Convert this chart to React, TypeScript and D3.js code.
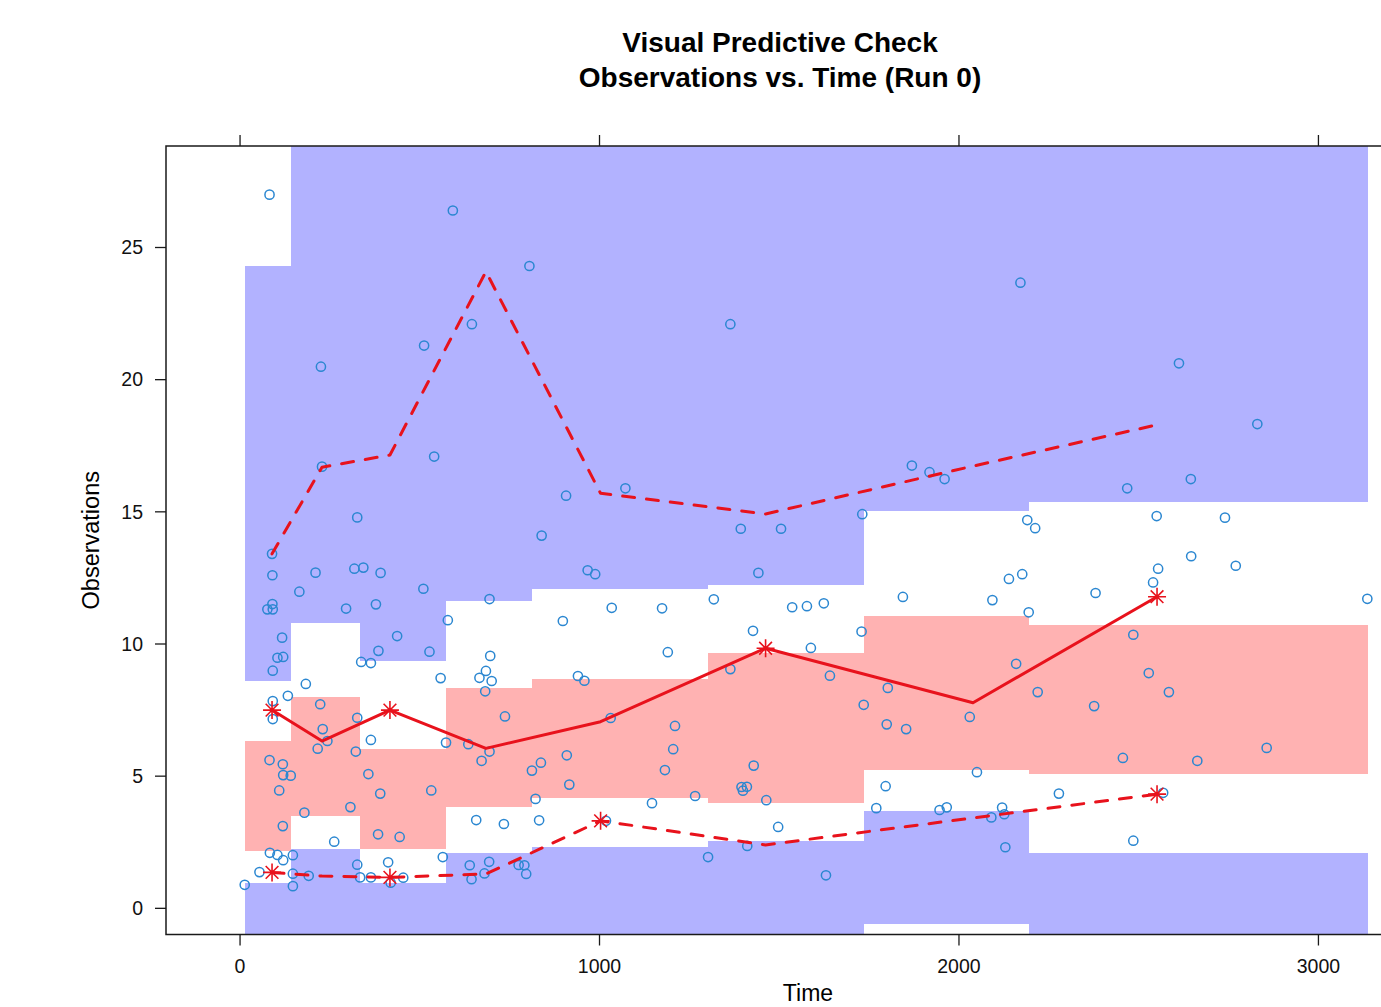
import React from "react";
import * as d3 from "d3";

// ---- Title and axis labels ----
const titleLines = ["Visual Predictive Check", "Observations vs. Time (Run 0)"];
const xLabel = "Time";
const yLabel = "Observations";
const xTicks = [0, 1000, 2000, 3000];
const yTicks = [0, 5, 10, 15, 20, 25];

// ---- Time bins (edges) and the time used for each bin's observed percentiles ----
const binEdges = [14, 141, 334, 573, 812, 1302, 1735, 2195, 3137];
const binTimes = [89, 228, 417, 684, 1003, 1462, 2039, 2551];

// ---- Simulated prediction intervals per bin ----
// confidence interval of the 5th percentile
const p05Lo = [-1.5, -1.5, -1.5, -1.5, -1.5, -1.5, -0.61, -1.5];
const p05Hi = [0.97, 2.23, 0.97, 2.08, 2.33, 2.55, 3.68, 2.09];
// confidence interval of the median
const p50Lo = [2.17, 3.49, 2.23, 3.84, 4.18, 3.97, 5.23, 5.09];
const p50Hi = [6.32, 7.98, 6.02, 8.32, 8.68, 9.65, 11.07, 10.73];
// confidence interval of the 95th percentile
const p95Lo = [8.61, 10.81, 9.36, 11.63, 12.07, 12.23, 15.03, 15.38];
const p95Hi = [24.3, 31.5, 31.5, 31.5, 31.5, 31.5, 31.5, 31.5];

// ---- Observed percentiles per bin ----
const obsP05 = [1.36, 1.22, 1.17, 1.3, 3.31, 2.4, 3.42, 4.32];
const obsP50 = [7.5, 6.33, 7.5, 6.05, 7.06, 9.84, 7.78, 11.79];
const obsP95 = [13.41, 16.69, 17.15, 24.09, 15.7, 14.92, 16.73, 18.29];

// ---- Observations ----
const obsTime = [
  82, 592, 805, 645, 512, 225, 540, 228, 907, 326, 839, 1072, 1364, 1869, 1918, 1960, 1731, 1393, 1505, 2171,
  2612, 2830, 2468, 2645, 2190, 2212, 2550, 2740, 89, 90, 210, 318, 343, 391, 165, 510, 967, 988,
  76, 91, 90, 295, 378, 694, 1034, 578, 898, 117, 437, 104, 120, 91, 337, 364, 385, 527, 696, 684,
  666, 700, 682, 558, 183, 133, 940, 958, 91, 223, 91, 326, 737, 1031, 230, 243, 216, 364, 322, 573,
  635, 694, 672, 82, 119, 120, 141, 109, 357, 390, 532, 812, 837, 909, 916, 822, 179, 307, 119, 384,
  444, 262, 657, 734, 832, 1018, 83, 104, 120, 147, 54, 147, 191, 13, 147, 326, 412, 334, 364, 419,
  454, 564, 639, 644, 680, 693, 775, 791, 796, 1442, 1174, 1318, 1536, 1577, 1624, 1844, 2093, 1427, 1729, 1190,
  1588, 1364, 1641, 1802, 1735, 1799, 1853, 2030, 1210, 1205, 1182, 1429, 1395, 1410, 1399, 1464, 1146, 1266, 2050, 1796,
  1770, 1946, 1966, 1497, 1411, 1302, 1630, 2090, 2646, 2770, 2554, 2540, 2139, 2176, 2380, 2194, 3136, 2485, 2159, 2528,
  2584, 2219, 2376, 2456, 2663, 2856, 2278, 2568, 2120, 2126, 2129, 2485,
];
const obsValue = [
  27.0, 26.4, 24.3, 22.1, 21.29, 20.49, 17.09, 16.71, 15.61, 14.79, 14.1, 15.89, 22.1, 16.75, 16.5, 16.24, 14.91, 14.36, 14.36, 23.67,
  20.62, 18.32, 15.89, 16.24, 14.69, 14.38, 14.84, 14.78, 13.41, 12.6, 12.7, 12.85, 12.89, 12.69, 11.98, 12.09, 12.79, 12.64,
  11.31, 11.31, 11.51, 11.34, 11.5, 11.7, 11.37, 10.9, 10.87, 10.24, 10.3, 9.48, 9.51, 8.99, 9.32, 9.28, 9.74, 9.71, 9.55, 8.98,
  8.72, 8.6, 8.21, 8.71, 8.49, 8.04, 8.79, 8.61, 7.84, 7.72, 7.16, 7.21, 7.26, 7.2, 6.78, 6.33, 6.04, 6.37, 5.93, 6.27,
  6.21, 5.93, 5.58, 5.61, 5.45, 5.04, 5.02, 4.46, 5.08, 4.34, 4.46, 5.21, 5.51, 5.79, 4.68, 4.14, 3.62, 3.83, 3.11, 2.8,
  2.7, 2.52, 3.34, 3.19, 3.33, 3.31, 2.1, 2.02, 1.82, 2.01, 1.37, 1.31, 1.23, 0.89, 0.84, 1.65, 1.74, 1.17, 1.17, 0.97,
  1.16, 1.94, 1.63, 1.1, 1.32, 1.76, 1.64, 1.63, 1.3, 12.69, 11.35, 11.69, 11.39, 11.43, 11.54, 11.78, 11.66, 10.5, 10.47, 9.69,
  9.85, 9.05, 8.8, 8.34, 7.7, 6.96, 6.78, 7.24, 6.9, 6.02, 5.23, 5.4, 4.59, 4.6, 4.45, 4.09, 3.98, 4.25, 5.15, 4.62,
  3.79, 3.72, 3.82, 3.08, 2.36, 1.94, 1.25, 3.44, 13.32, 12.96, 12.85, 12.33, 12.46, 12.64, 11.93, 11.2, 11.71, 10.35, 9.25, 8.9,
  8.18, 8.18, 7.65, 5.69, 5.58, 6.07, 4.34, 4.37, 3.81, 3.56, 2.31, 2.56,
];

const W = 1381;
const H = 1007;
const frame = { left: 166, top: 146, right: 1450, bottom: 934.5 };
const FONT = "'Liberation Sans', Arial, Helvetica, sans-serif";
const BLUE_BAND = "#b2b2ff";
const RED_BAND = "#ffb2b2";
const LINE_RED = "#e8121c";
const POINT_BLUE = "#2b87d1";

function Asterisk({ cx, cy, r }: { cx: number; cy: number; r: number }) {
  const d = r / Math.SQRT2;
  const path = `M${cx - r},${cy}L${cx + r},${cy}M${cx},${cy - r}L${cx},${cy + r}` +
    `M${cx - d},${cy - d}L${cx + d},${cy + d}M${cx - d},${cy + d}L${cx + d},${cy - d}`;
  return <path d={path} stroke={LINE_RED} strokeWidth={1.6} fill="none" />;
}

export default function App() {
  const x = d3.scaleLinear().domain([-206, 3366]).range([frame.left, frame.right]);
  const y = d3.scaleLinear().domain([-0.99, 28.84]).range([frame.bottom, frame.top]);

  const bins = binTimes.map((t, i) => ({
    x0: binEdges[i],
    x1: binEdges[i + 1],
    t,
    bands: [
      { lo: p95Lo[i], hi: p95Hi[i], fill: BLUE_BAND, obs: obsP95[i] },
      { lo: p50Lo[i], hi: p50Hi[i], fill: RED_BAND, obs: obsP50[i] },
      { lo: p05Lo[i], hi: p05Hi[i], fill: BLUE_BAND, obs: obsP05[i] },
    ],
  }));

  const line = d3
    .line<number>()
    .x((_, i) => x(binTimes[i]))
    .y((v) => y(v));

  const lineSeries = [
    { values: obsP95, dash: "12 12" },
    { values: obsP50, dash: null },
    { values: obsP05, dash: "12 12" },
  ];

  const cw = frame.right - frame.left;
  const ch = frame.bottom - frame.top;

  return (
    <svg
      width={W}
      height={H}
      style={{ position: "absolute", left: 0, top: 0, background: "#fff" }}
      fontFamily={FONT}
    >
      <defs>
        <clipPath id="panel-clip">
          <rect x={frame.left} y={frame.top} width={cw} height={ch} />
        </clipPath>
      </defs>

      {/* title */}
      <g fontWeight="bold" fontSize={28} textAnchor="middle" fill="#000">
        {titleLines.map((t, i) => (
          <text key={i} x={780} y={52 + i * 35}>
            {t}
          </text>
        ))}
      </g>

      <g clipPath="url(#panel-clip)">
        {/* prediction interval bands */}
        <g shapeRendering="crispEdges">
          {bins.map((b, i) =>
            b.bands.map((band, j) => {
              const x0 = Math.round(x(b.x0));
              const x1 = Math.round(x(b.x1));
              const y0 = Math.round(y(band.hi));
              const y1 = Math.round(y(band.lo));
              return (
                <rect
                  key={`${i}-${j}`}
                  x={x0}
                  width={x1 - x0}
                  y={y0}
                  height={y1 - y0}
                  fill={band.fill}
                />
              );
            })
          )}
        </g>

        {/* observations */}
        {obsTime.map((t, i) => (
          <circle
            key={i}
            cx={x(t)}
            cy={y(obsValue[i])}
            r={4.6}
            fill="none"
            stroke={POINT_BLUE}
            strokeWidth={1.5}
          />
        ))}

        {/* observed percentiles */}
        {lineSeries.map((s, k) => (
          <path
            key={k}
            d={line(s.values) || ""}
            fill="none"
            stroke={LINE_RED}
            strokeWidth={3}
            strokeLinecap="round"
            strokeLinejoin="round"
            strokeDasharray={s.dash || undefined}
          />
        ))}

        {/* markers where an observed percentile falls outside its interval */}
        {bins.map((b, i) =>
          b.bands.map((band, j) =>
            band.obs < band.lo || band.obs > band.hi ? (
              <Asterisk key={`s${i}-${j}`} cx={x(b.t)} cy={y(band.obs)} r={9} />
            ) : null
          )
        )}
      </g>

      {/* panel frame */}
      <rect
        x={frame.left}
        y={frame.top}
        width={cw}
        height={ch}
        fill="none"
        stroke="#1a1a1a"
        strokeWidth={1.5}
      />

      {/* ticks: x at bottom and top, y at left */}
      <g stroke="#1a1a1a" strokeWidth={1.3}>
        {xTicks.map((t) => (
          <g key={t}>
            <line x1={x(t)} x2={x(t)} y1={frame.bottom} y2={frame.bottom + 11} />
            <line x1={x(t)} x2={x(t)} y1={frame.top} y2={frame.top - 11} />
          </g>
        ))}
        {yTicks.map((t) => (
          <line key={t} x1={frame.left - 11} x2={frame.left} y1={y(t)} y2={y(t)} />
        ))}
      </g>
      <g fontSize={19.5} fill="#111">
        {xTicks.map((t) => (
          <text key={t} x={x(t)} y={frame.bottom + 38} textAnchor="middle">
            {d3.format("d")(t)}
          </text>
        ))}
        {yTicks.map((t) => (
          <text key={t} x={frame.left - 23} y={y(t)} dy="0.35em" textAnchor="end">
            {t}
          </text>
        ))}
      </g>

      {/* axis titles */}
      <text x={(frame.left + frame.right) / 2} y={1001} textAnchor="middle" fontSize={23} fill="#000">
        {xLabel}
      </text>
      <text
        transform={`translate(99,${(frame.top + frame.bottom) / 2}) rotate(-90)`}
        textAnchor="middle"
        fontSize={23.5}
        fill="#000"
      >
        {yLabel}
      </text>
    </svg>
  );
}
